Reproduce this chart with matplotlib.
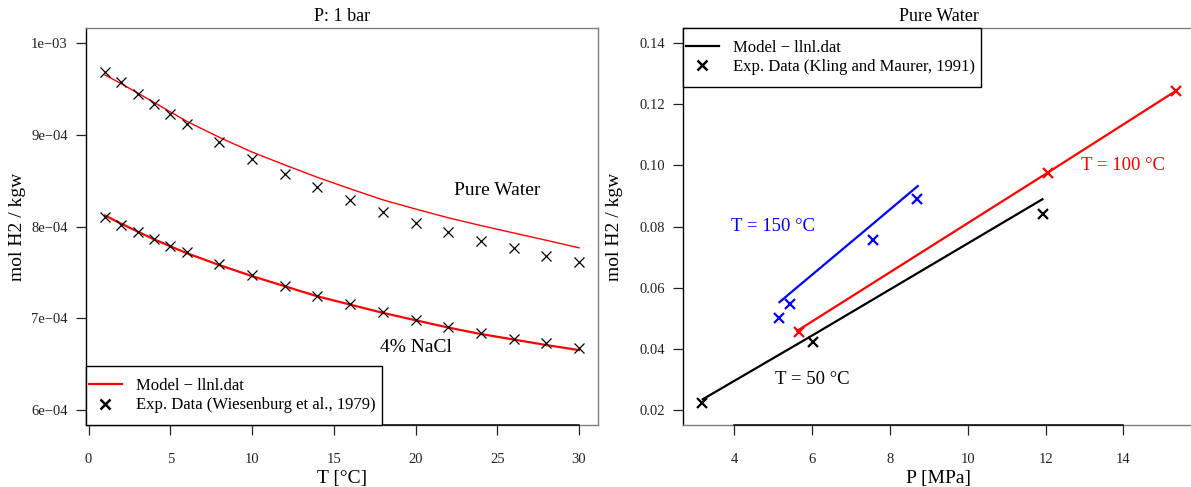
import numpy as np
import matplotlib
matplotlib.use("Agg")
import matplotlib.pyplot as plt
from matplotlib.lines import Line2D
from matplotlib.patches import Rectangle

plt.rcParams['font.family'] = ['Liberation Serif', 'DejaVu Serif']

# --- left panel: H2 solubility vs temperature at 1 bar ---
t_exp = [1, 2, 3, 4, 5, 6, 8, 10, 12, 14, 16, 18, 20, 22, 24, 26, 28, 30]
pure_exp = [9.685e-4, 9.570e-4, 9.446e-4, 9.333e-4, 9.228e-4, 9.120e-4, 8.924e-4, 8.739e-4,
            8.576e-4, 8.427e-4, 8.283e-4, 8.160e-4, 8.043e-4, 7.938e-4, 7.845e-4, 7.761e-4,
            7.680e-4, 7.610e-4]
nacl_exp = [8.101e-4, 8.018e-4, 7.942e-4, 7.862e-4, 7.793e-4, 7.720e-4, 7.595e-4, 7.467e-4,
            7.351e-4, 7.242e-4, 7.152e-4, 7.068e-4, 6.986e-4, 6.905e-4, 6.837e-4, 6.779e-4,
            6.732e-4, 6.681e-4]

t_model = [1, 2, 4, 6, 8, 10, 12, 14, 16, 18, 20, 22, 24, 26, 28, 30]
pure_model = [9.649e-4, 9.554e-4, 9.350e-4, 9.145e-4, 8.970e-4, 8.810e-4, 8.670e-4, 8.535e-4,
              8.410e-4, 8.290e-4, 8.190e-4, 8.095e-4, 8.010e-4, 7.930e-4, 7.850e-4, 7.768e-4]
nacl_model = [8.120e-4, 8.030e-4, 7.860e-4, 7.710e-4, 7.580e-4, 7.460e-4, 7.350e-4, 7.240e-4,
              7.150e-4, 7.060e-4, 6.980e-4, 6.900e-4, 6.830e-4, 6.770e-4, 6.710e-4, 6.655e-4]

left_yticks = [6e-4, 7e-4, 8e-4, 9e-4, 1e-3]
left_yticklabels = ['6e\u221204', '7e\u221204', '8e\u221204', '9e\u221204', '1e\u221203']
left_xticks = [0, 5, 10, 15, 20, 25, 30]

# --- right panel: H2 solubility vs pressure, pure water ---
p_50 = [3.18, 6.02, 11.94]
h2_50 = [0.0223, 0.0423, 0.0842]
p_50_model = [3.20, 6.02, 11.92]
h2_50_model = [0.0236, 0.0445, 0.0889]

p_100 = [5.68, 12.07, 15.35]
h2_100 = [0.0455, 0.0974, 0.1243]
p_100_model = [5.62, 12.07, 15.35]
h2_100_model = [0.0459, 0.0977, 0.1243]

p_150 = [5.17, 5.43, 7.58, 8.70]
h2_150 = [0.0500, 0.0546, 0.0756, 0.0889]
p_150_model = [5.17, 5.43, 7.58, 8.72]
h2_150_model = [0.0553, 0.0581, 0.0810, 0.0932]

right_xticks = [4, 6, 8, 10, 12, 14]
right_yticks = [0.02, 0.04, 0.06, 0.08, 0.10, 0.12, 0.14]

W, H = 1191, 487


def r_range(lo, hi):
    # R style 4% padding
    d = (hi - lo) * 0.04
    return lo - d, hi + d


def style_axes(ax, xticks):
    for s in ['top', 'right', 'bottom']:
        ax.spines[s].set_color('#7f7f7f')
    ax.spines['left'].set_color('black')
    for s in ax.spines.values():
        s.set_linewidth(1.0)
    ax.tick_params(axis='both', direction='out', length=7, width=0.9,
                   labelsize=10.5, colors='#222222')
    ax.tick_params(axis='x', pad=13)
    ax.tick_params(axis='y', pad=6)
    # axis line between first and last tick, like R's axis()
    ax.plot([xticks[0], xticks[-1]], [0, 0], color='black', lw=1.1,
            transform=ax.get_xaxis_transform(), clip_on=False, zorder=5)
    # fixed label distance as in R
    ax.yaxis.set_label_coords(-60 / 512, 0.5)


def make_legend(ax, handles, labels, box):
    # box = (left, top, right, bottom) in pixels, R-style legend box
    l, t, r, b = box
    ax.add_patch(Rectangle((l / W, 1 - b / H), (r - l) / W, (b - t) / H,
                           transform=fig.transFigure, facecolor='white',
                           edgecolor='black', lw=1.0, zorder=6, clip_on=False))
    leg = ax.legend(handles, labels, loc='center left',
                    bbox_to_anchor=((l + 3) / W, 1 - (t + b) / 2 / H),
                    bbox_transform=fig.transFigure, frameon=False, fontsize=12,
                    handlelength=1.95, handletextpad=0.85, borderpad=0, borderaxespad=0,
                    labelspacing=0.22)
    leg.set_zorder(7)
    return leg


fig = plt.figure(figsize=(W / 100, H / 100), dpi=100)
ax1 = fig.add_axes([86 / W, 1 - 425 / H, 512 / W, 397 / H])
ax2 = fig.add_axes([683 / W, 1 - 425 / H, 512 / W, 397 / H])

# left
ax1.plot(t_model, pure_model, color='red', lw=1.0)
ax1.plot(t_model, nacl_model, color='red', lw=1.6)
ax1.plot(t_exp, pure_exp, 'x', color='black', ms=7, mew=0.9)
ax1.plot(t_exp, nacl_exp, 'x', color='black', ms=7, mew=0.9)
ax1.set_xlim(*r_range(min(t_exp), max(t_exp)))
ax1.set_ylim(*r_range(6e-4, 1e-3))
ax1.set_xticks(left_xticks)
ax1.set_yticks(left_yticks)
ax1.set_yticklabels(left_yticklabels)
style_axes(ax1, left_xticks)
ax1.set_title('P: 1 bar', fontsize=13, pad=5)
ax1.set_xlabel('T [\u00b0C]', fontsize=14, labelpad=3)
ax1.set_ylabel('mol H2 / kgw', fontsize=14)
ax1.text(25, 8.39e-4, 'Pure Water', fontsize=14, ha='center', va='center')
ax1.text(20, 6.685e-4, '4% NaCl', fontsize=14, ha='center', va='center')
h1 = [Line2D([], [], color='red', lw=1.6),
      Line2D([], [], color='black', ls='none', marker='x', ms=7, mew=1.8)]
make_legend(ax1, h1, ['Model \u2212 llnl.dat', 'Exp. Data (Wiesenburg et al., 1979)'],
            (86, 366, 382, 425))

# right
ax2.plot(p_50_model, h2_50_model, color='black', lw=1.6)
ax2.plot(p_100_model, h2_100_model, color='red', lw=1.6)
ax2.plot(p_150_model, h2_150_model, color='blue', lw=1.6)
ax2.plot(p_50, h2_50, 'x', color='black', ms=7, mew=1.6)
ax2.plot(p_100, h2_100, 'x', color='red', ms=7, mew=1.6)
ax2.plot(p_150, h2_150, 'x', color='blue', ms=7, mew=1.6)
all_p = p_50 + p_100 + p_150
ax2.set_xlim(*r_range(min(all_p), max(all_p)))
ax2.set_ylim(*r_range(0.02, 0.14))
ax2.set_xticks(right_xticks)
ax2.set_yticks(right_yticks)
ax2.set_yticklabels(['%.2f' % v for v in right_yticks])
style_axes(ax2, right_xticks)
ax2.set_title('Pure Water', fontsize=13, pad=5)
ax2.set_xlabel('P [MPa]', fontsize=14, labelpad=3)
ax2.set_ylabel('mol H2 / kgw', fontsize=14)
ax2.text(5.0, 0.08, 'T = 150 \u00b0C', color='blue', fontsize=13.5, ha='center', va='center')
ax2.text(14.0, 0.10, 'T = 100 \u00b0C', color='red', fontsize=13.5, ha='center', va='center')
ax2.text(6.0, 0.03, 'T = 50 \u00b0C', color='black', fontsize=13.5, ha='center', va='center')
h2 = [Line2D([], [], color='black', lw=1.6),
      Line2D([], [], color='black', ls='none', marker='x', ms=7, mew=1.8)]
make_legend(ax2, h2, ['Model \u2212 llnl.dat', 'Exp. Data (Kling and Maurer, 1991)'],
            (683, 28, 981, 87))

fig.savefig('out.png', dpi=100)
